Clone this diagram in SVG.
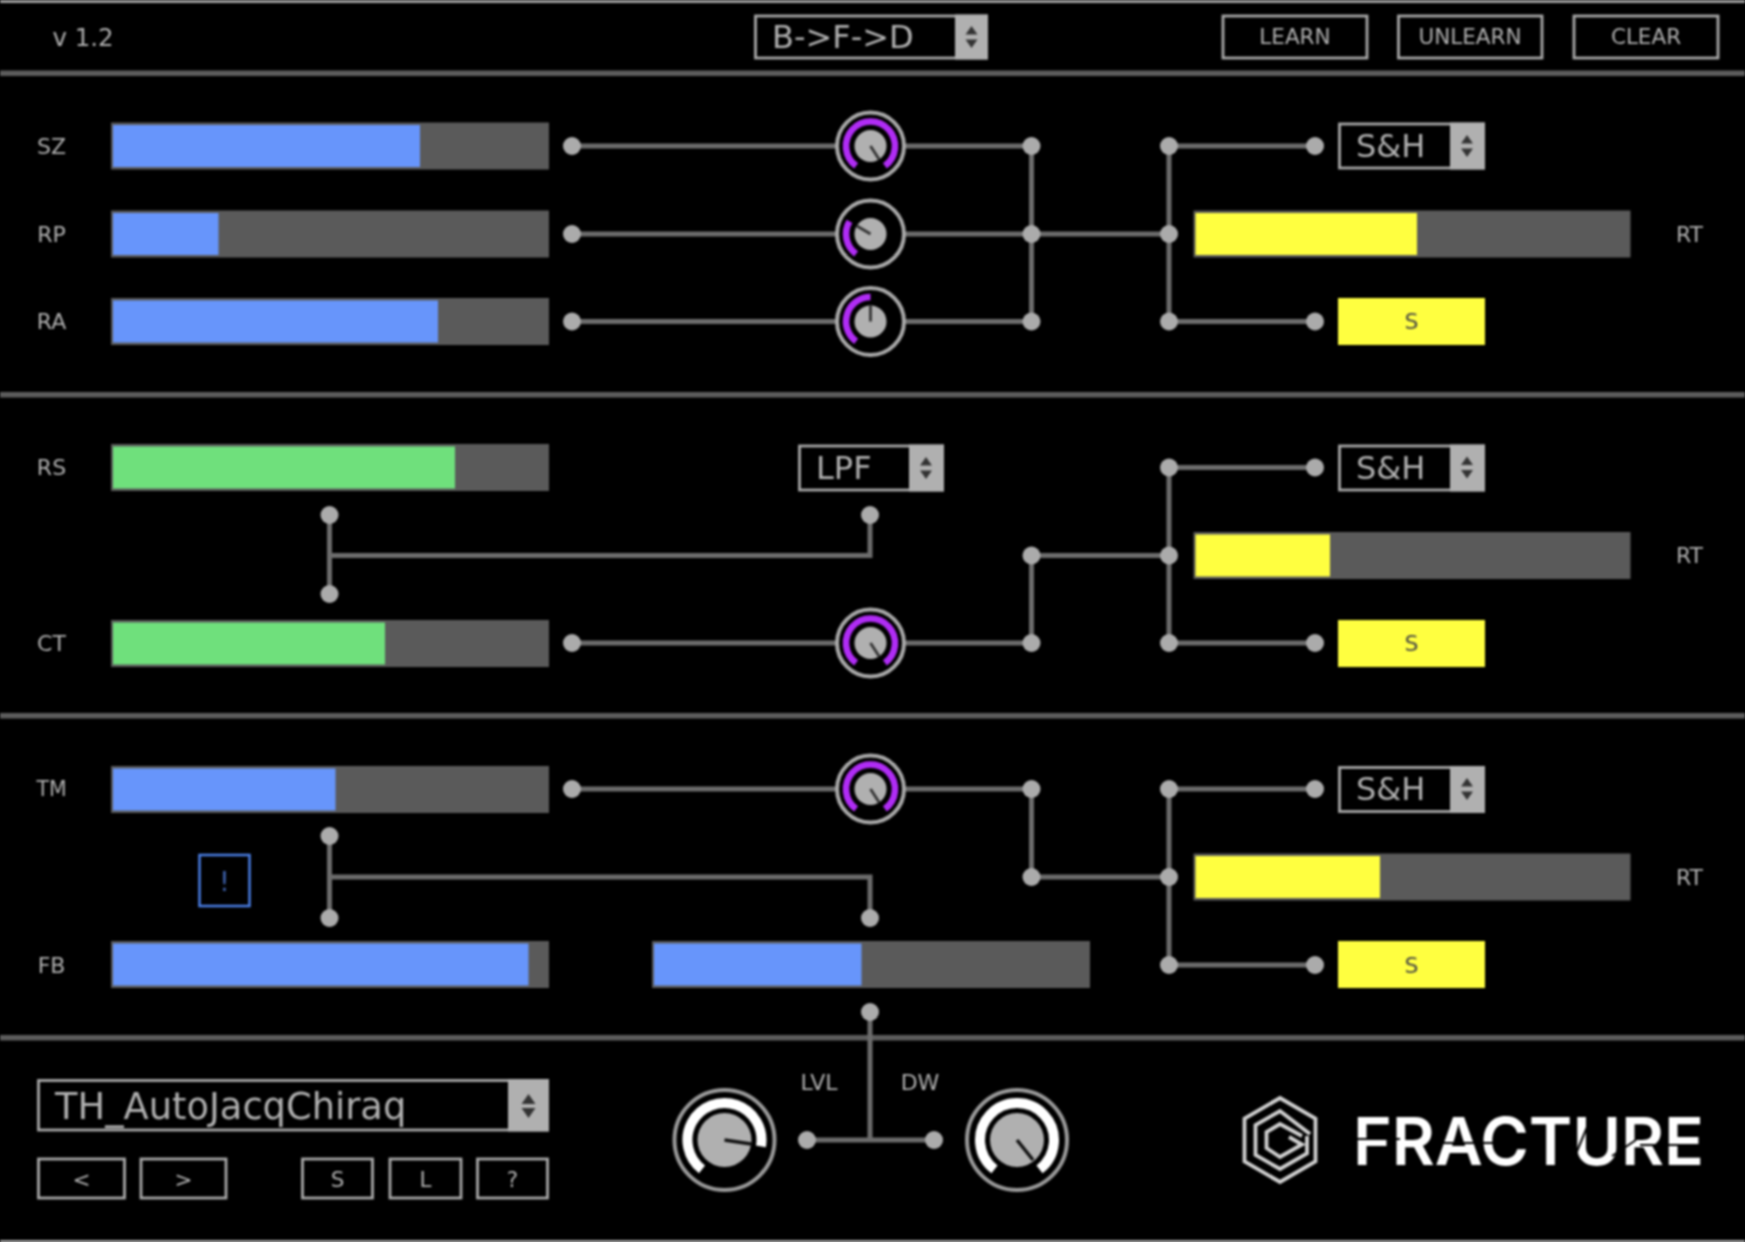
<svg xmlns="http://www.w3.org/2000/svg" width="1745" height="1242" viewBox="0 0 1745 1242">
<style>
text{font-family:"DejaVu Sans","Liberation Sans",sans-serif;fill:#b0b0b0}
.lb{font-size:22px;text-anchor:middle;dominant-baseline:central}
.btn{font-size:21.5px;text-anchor:middle;dominant-baseline:central}
.dd{font-size:32px;dominant-baseline:central}
.box{fill:#000;stroke:#a8a8a8;stroke-width:2.8}
.ar{fill:#b0b0b0}
.tri{fill:#333}
.bar{fill:#5a5a5a}
.blue{fill:#6795fb}
.green{fill:#6fe07c}
.yellow{fill:#ffff40}
.wire{fill:none;stroke:#6c6c6c;stroke-width:5}
.dot{fill:#ababab}
.div{fill:#5c5c5c}
.ring{fill:#000;stroke:#a8a8a8;stroke-width:4}
.bring{fill:#000;stroke:#999;stroke-width:4}
.disc{fill:#b0b0b0}
.pa{fill:none;stroke:#b02cf5;stroke-width:6.600}
.wa{fill:none;stroke:#fff;stroke-width:10}
.nd{stroke:#333;stroke-width:2.800}
.nb{stroke:#111;stroke-width:3.400}
.logo{fill:none;stroke:#d0d0d0;stroke-width:3.800}
</style>
<defs>
<filter id="soft" x="0" y="0" width="100%" height="100%" color-interpolation-filters="sRGB"><feGaussianBlur stdDeviation="0.95"/></filter>
<g id="tris"><path class="tri" d="M-6 -2.500 L0 -11 L6 -2.500Z M-6 2.500 L0 11 L6 2.500Z"/></g>
<g id="knobBase"><circle class="ring" r="33.500"/><circle class="disc" r="16"/></g>
<g id="bigBase"><circle class="bring" r="50"/><circle class="disc" r="27"/></g>
</defs>
<rect width="1745" height="1242" fill="#000"/>
<g filter="url(#soft)">
<g id="frame">
<rect x="0" y="0" width="1745" height="3" fill="#a0a0a0"/>
<rect x="0" y="1240" width="1745" height="3" fill="#a0a0a0"/>
<rect class="div" x="0" y="70.500" width="1745" height="5.500"/>
<rect class="div" x="0" y="392" width="1745" height="5.500"/>
<rect class="div" x="0" y="713" width="1745" height="5.500"/>
<rect class="div" x="0" y="1035" width="1745" height="5.500"/>
</g>
<g id="connectors">
<path class="wire" d="M572 146H870M572 234H870M572 321.500H870M870 146H1031.500M870 234H1169M870 321.500H1031.500M1031.500 146V321.500M1169 146V321.500M1169 146H1315M1169 321.500H1315"/>
<path class="wire" d="M329.500 515V594M329.500 555.500H870V515M572 643H1031.500V555.500H1169M1169 467.500V643M1169 467.500H1315M1169 643H1315"/>
<path class="wire" d="M329.500 836V918M329.500 877H870V918M572 789H1031.500V877H1169M1169 789V965M1169 789H1315M1169 965H1315"/>
<path class="wire" d="M870 1012V1140M807 1140H934"/>
<g class="dot">
<circle cx="572" cy="146" r="9"/><circle cx="572" cy="234" r="9"/><circle cx="572" cy="321.500" r="9"/>
<circle cx="1031.500" cy="146" r="9"/><circle cx="1031.500" cy="234" r="9"/><circle cx="1031.500" cy="321.500" r="9"/>
<circle cx="1169" cy="146" r="9"/><circle cx="1169" cy="234" r="9"/><circle cx="1169" cy="321.500" r="9"/>
<circle cx="1315" cy="146" r="9"/><circle cx="1315" cy="321.500" r="9"/>
<circle cx="329.500" cy="515" r="9"/><circle cx="329.500" cy="594" r="9"/><circle cx="870" cy="515" r="9"/>
<circle cx="572" cy="643" r="9"/><circle cx="1031.500" cy="555.500" r="9"/><circle cx="1031.500" cy="643" r="9"/>
<circle cx="1169" cy="467.500" r="9"/><circle cx="1169" cy="555.500" r="9"/><circle cx="1169" cy="643" r="9"/>
<circle cx="1315" cy="467.500" r="9"/><circle cx="1315" cy="643" r="9"/>
<circle cx="329.500" cy="836" r="9"/><circle cx="329.500" cy="918" r="9"/><circle cx="870" cy="918" r="9"/>
<circle cx="572" cy="789" r="9"/><circle cx="1031.500" cy="789" r="9"/><circle cx="1031.500" cy="877" r="9"/>
<circle cx="1169" cy="789" r="9"/><circle cx="1169" cy="877" r="9"/><circle cx="1169" cy="965" r="9"/>
<circle cx="1315" cy="789" r="9"/><circle cx="1315" cy="965" r="9"/>
<circle cx="870" cy="1012" r="9"/><circle cx="807" cy="1140" r="9"/><circle cx="934" cy="1140" r="9"/>
</g>
</g>
<g id="version"><text x="83" y="37" style="font-size:24.500px" class="lb">v 1.2</text></g>
<g id="mode"><rect class="box" x="755.500" y="16" width="231" height="42"/><rect class="ar" x="955" y="14.500" width="33" height="45"/><use href="#tris" x="971.500" y="37"/><text x="772" y="37" class="dd">B-&gt;F-&gt;D</text></g>
<g id="learn"><rect class="box" x="1223" y="16" width="144" height="42"/><text x="1295" y="36" class="btn">LEARN</text></g>
<g id="unlearn"><rect class="box" x="1398.500" y="16" width="143.500" height="42"/><text x="1470" y="36" class="btn">UNLEARN</text></g>
<g id="clear"><rect class="box" x="1574" y="16" width="144" height="42"/><text x="1646" y="36" class="btn">CLEAR</text></g>

<g id="sz"><text x="51.500" y="146" class="lb">SZ</text><rect class="bar" x="111" y="122.500" width="438" height="47"/><rect class="blue" x="113" y="125" width="307" height="42"/></g>
<g id="rp"><text x="51.500" y="234" class="lb">RP</text><rect class="bar" x="111" y="210.500" width="438" height="47"/><rect class="blue" x="113" y="213" width="105.500" height="42"/></g>
<g id="ra"><text x="51.500" y="321.500" class="lb">RA</text><rect class="bar" x="111" y="298" width="438" height="47"/><rect class="blue" x="113" y="300.500" width="325" height="42"/></g>
<g id="knob-sz" transform="translate(870.500 146)"><use href="#knobBase"/><path class="pa" d="M-14.400 19.800A24.500 24.500 0 1 1 14.400 19.800"/><line class="nd" x2="8.700" y2="13.400"/></g>
<g id="knob-rp" transform="translate(870.500 234)"><use href="#knobBase"/><path class="pa" d="M-14.400 19.800A24.500 24.500 0 0 1 -21 -12.600"/><line class="nd" x2="-14" y2="-8.300"/></g>
<g id="knob-ra" transform="translate(870.500 321.500)"><use href="#knobBase"/><path class="pa" d="M-14.400 19.800A24.500 24.500 0 0 1 0 -24.500"/><line class="nd" y2="-16"/></g>
<g id="sh1"><rect class="box" x="1339.500" y="124" width="144" height="44"/><rect class="ar" x="1450" y="122.500" width="35" height="47"/><use href="#tris" x="1467" y="146"/><text x="1356" y="146" class="dd">S&amp;H</text></g>
<g id="rt1"><rect class="bar" x="1193.500" y="210.500" width="437" height="47"/><rect class="yellow" x="1195.500" y="213" width="221.500" height="42"/><text x="1689.500" y="234" class="lb">RT</text></g>
<g id="s1"><rect class="yellow" x="1338" y="298" width="147" height="47"/><text x="1411.500" y="321.500" class="lb" style="fill:#444">S</text></g>

<g id="rs"><text x="51.500" y="467.500" class="lb">RS</text><rect class="bar" x="111" y="444" width="438" height="47"/><rect class="green" x="113" y="446.500" width="342" height="42"/></g>
<g id="lpf"><rect class="box" x="799.500" y="446" width="143" height="44"/><rect class="ar" x="909" y="444.500" width="35" height="47"/><use href="#tris" x="926" y="468"/><text x="816" y="468" class="dd">LPF</text></g>
<g id="sh2"><rect class="box" x="1339.500" y="446" width="144" height="44"/><rect class="ar" x="1450" y="444.500" width="35" height="47"/><use href="#tris" x="1467" y="467.500"/><text x="1356" y="467.500" class="dd">S&amp;H</text></g>
<g id="rt2"><rect class="bar" x="1193.500" y="532" width="437" height="47"/><rect class="yellow" x="1195.500" y="534.500" width="134.500" height="42"/><text x="1689.500" y="555.500" class="lb">RT</text></g>
<g id="ct"><text x="51.500" y="643" class="lb">CT</text><rect class="bar" x="111" y="620" width="438" height="47"/><rect class="green" x="113" y="622.500" width="272" height="42"/></g>
<g id="knob-ct" transform="translate(870.500 643)"><use href="#knobBase"/><path class="pa" d="M-14.400 19.800A24.500 24.500 0 1 1 14.400 19.800"/><line class="nd" x2="8.700" y2="13.400"/></g>
<g id="s2"><rect class="yellow" x="1338" y="620" width="147" height="47"/><text x="1411.500" y="643" class="lb" style="fill:#444">S</text></g>

<g id="tm"><text x="51.500" y="789" class="lb" style="font-size:20.500px">TM</text><rect class="bar" x="111" y="766" width="438" height="47"/><rect class="blue" x="113" y="768.500" width="222.500" height="42"/></g>
<g id="knob-tm" transform="translate(870.500 789)"><use href="#knobBase"/><path class="pa" d="M-14.400 19.800A24.500 24.500 0 1 1 14.400 19.800"/><line class="nd" x2="8.700" y2="13.400"/></g>
<g id="sh3"><rect class="box" x="1339.500" y="767.500" width="144" height="44"/><rect class="ar" x="1450" y="766" width="35" height="47"/><use href="#tris" x="1467" y="789"/><text x="1356" y="789" class="dd">S&amp;H</text></g>
<g id="warn"><rect x="199.500" y="855" width="50" height="51" fill="#000" stroke="#4a7fe6" stroke-width="2.500"/><text x="224.500" y="881.500" class="lb" style="fill:#3c5fa8;font-size:27px">!</text></g>
<g id="rt3"><rect class="bar" x="1193.500" y="853.500" width="437" height="47"/><rect class="yellow" x="1195.500" y="856" width="184.500" height="42"/><text x="1689.500" y="877" class="lb">RT</text></g>
<g id="fb"><text x="51.500" y="965" class="lb">FB</text><rect class="bar" x="111" y="941" width="438" height="47"/><rect class="blue" x="113" y="943.500" width="415.500" height="42"/></g>
<g id="mid-bar"><rect class="bar" x="652" y="941" width="438" height="47"/><rect class="blue" x="654" y="943.500" width="207.500" height="42"/></g>
<g id="s3"><rect class="yellow" x="1338" y="941" width="147" height="47"/><text x="1411.500" y="965" class="lb" style="fill:#444">S</text></g>

<g id="preset"><rect class="box" x="38.500" y="1080.500" width="509" height="49.500"/><rect class="ar" x="508" y="1079" width="41" height="52.500"/><path class="tri" d="M521.500 1104L528.500 1094L535.500 1104Z M521.500 1108L528.500 1118L535.500 1108Z"/><text x="55" y="1106.500" class="dd" style="font-size:36.800px">TH_AutoJacqChiraq</text></g>
<g id="prev"><rect class="box" x="38.500" y="1159" width="86" height="39"/><text x="81.500" y="1179" class="btn">&lt;</text></g>
<g id="next"><rect class="box" x="141" y="1159" width="85" height="39"/><text x="183.500" y="1179" class="btn">&gt;</text></g>
<g id="save"><rect class="box" x="302.500" y="1159" width="70" height="39"/><text x="337.500" y="1179" class="btn">S</text></g>
<g id="load"><rect class="box" x="390" y="1159" width="71" height="39"/><text x="425.500" y="1179" class="btn">L</text></g>
<g id="help"><rect class="box" x="477.500" y="1159" width="70" height="39"/><text x="512.500" y="1179" class="btn">?</text></g>
<g id="lvl"><text x="819" y="1082" class="lb">LVL</text><g transform="translate(724.500 1140)"><use href="#bigBase"/><path class="wa" d="M-22.500 29.400A37 37 0 1 1 36.400 6.400"/><line class="nb" x2="26.700" y2="4"/></g></g>
<g id="dw"><text x="920" y="1082" class="lb">DW</text><g transform="translate(1017 1140)"><use href="#bigBase"/><path class="wa" d="M-22.500 29.400A37 37 0 1 1 22.500 29.400"/><line class="nb" x2="16" y2="20"/></g></g>
<g id="logo">
<path class="logo" d="M1280 1098L1315.500 1118.500V1161.500L1280 1182L1244.500 1161.500V1118.500Z"/>
<path class="logo" d="M1310 1134L1280 1111L1255.500 1125V1155L1280 1169L1307 1153.500V1136"/>
<path class="logo" d="M1302 1136L1280 1124L1266.500 1132V1148L1280 1157L1302 1144.500L1289 1137"/>
<text x="1353" y="1165" font-size="66" font-weight="600" textLength="351" lengthAdjust="spacingAndGlyphs" style="font-family:Inter,'Liberation Sans',sans-serif;fill:#fff">FRACTURE</text>
<path stroke="#000" stroke-width="2" fill="none" d="M1350 1139H1400M1440 1143H1520M1590 1120L1570 1168M1640 1145H1704M1395 1120L1388 1132M1612 1156L1636 1140"/>
</g>
</g>
</svg>
